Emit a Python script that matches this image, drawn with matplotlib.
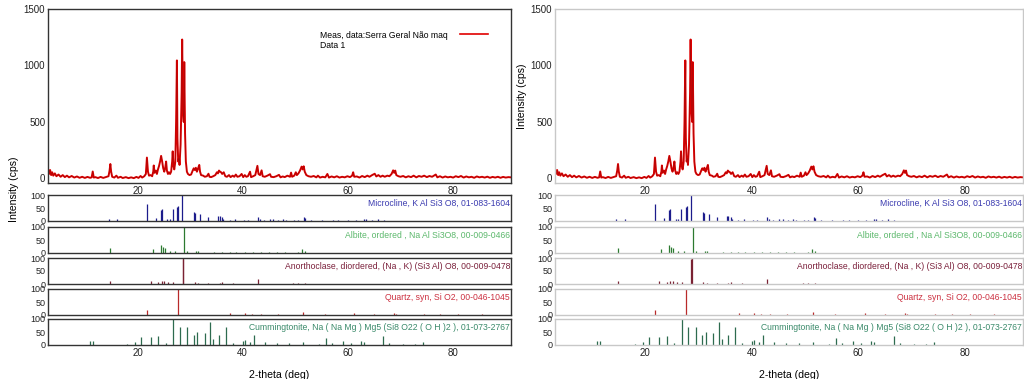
import matplotlib
matplotlib.use('Agg')
import matplotlib.pyplot as plt

plt.rcParams['font.family'] = ['Liberation Sans', 'DejaVu Sans']
plt.rcParams['font.size'] = 7

meas_tt = [3.0, 3.2, 3.4, 3.6, 3.8, 4.0, 4.3, 4.6, 5.0, 5.4, 5.8, 6.2, 6.6, 7.0, 7.5, 8.0,
           8.5, 9.0, 9.5, 10.0, 10.5, 11.0, 11.3, 11.5, 11.7, 12.0, 12.5, 13.0, 13.5, 14.0,
           14.5, 14.7, 14.85, 15.0, 15.2, 15.6, 16.0, 16.3, 16.8, 17.2, 17.8, 18.3, 18.8,
           19.3, 19.8, 20.2, 20.6, 20.9, 21.3, 21.6, 21.8, 22.0, 22.2, 22.5, 22.8, 23.0,
           23.1, 23.25, 23.5, 23.7, 23.9, 24.1, 24.3, 24.5, 24.7, 24.9, 25.1, 25.3, 25.45,
           25.6, 25.8, 26.0, 26.2, 26.4, 26.6, 26.7, 26.85, 27.0, 27.2, 27.35, 27.5, 27.6,
           27.75, 27.9, 28.0, 28.2, 28.4, 28.5, 28.65, 28.8, 28.9, 29.05, 29.2, 29.4, 29.6,
           29.9, 30.2, 30.5, 30.7, 30.9, 31.1, 31.3, 31.5, 31.75, 31.9, 32.1, 32.5, 32.8,
           33.2, 33.5, 33.7, 34.0, 34.4, 34.8, 35.1, 35.3, 35.5, 35.7, 35.9, 36.1, 36.4,
           36.7, 37.0, 37.4, 37.7, 38.1, 38.4, 38.7, 39.0, 39.4, 39.8, 40.1, 40.4, 40.7,
           41.0, 41.4, 41.6, 42.0, 42.4, 42.8, 43.0, 43.3, 43.6, 43.8, 44.2, 44.7, 45.2,
           45.4, 45.9, 46.4, 46.9, 47.2, 47.6, 48.0, 48.5, 49.0, 49.2, 49.4, 49.8, 50.1,
           50.3, 50.6, 50.9, 51.2, 51.4, 51.6, 51.8, 52.1, 52.5, 53.0, 53.5, 54.0, 54.3,
           54.7, 55.2, 55.7, 56.1, 56.4, 56.9, 57.4, 57.9, 58.4, 58.9, 59.4, 59.9, 60.4,
           60.8, 61.0, 61.2, 61.7, 62.2, 62.7, 63.2, 63.7, 64.1, 64.6, 65.1, 65.4, 65.8,
           66.2, 66.6, 67.0, 67.5, 67.9, 68.3, 68.6, 68.8, 69.0, 69.2, 69.6, 70.0, 70.5,
           71.0, 71.5, 72.0, 72.5, 73.0, 73.5, 74.0, 74.5, 75.0, 75.5, 76.0, 76.7, 77.0,
           77.5, 78.0, 78.5, 79.0, 79.5, 80.0, 80.5, 81.0, 81.5, 82.0, 82.5, 83.0, 83.5,
           84.0, 84.5, 85.0, 85.5, 86.0, 86.5, 87.0, 87.5, 88.0, 88.5, 89.0, 89.5, 90.0,
           90.5, 91.0]
meas_cps = [85, 40, 75, 30, 55, 25, 45, 20, 35, 15, 30, 12, 25, 10, 22, 8,
            18, 6, 15, 5, 14, 6, 10, 62, 8, 12, 4, 14, 5, 12,
            20, 70, 128, 60, 15, 8, 25, 6, 15, 4, 12, 3, 10,
            3, 14, 5, 22, 8, 20, 40, 185, 60, 25, 30, 20, 60,
            115, 50, 70, 40, 80, 110, 150, 200, 150, 90, 60, 100, 150,
            70, 40, 55, 40, 60, 150, 240, 110, 80, 150, 500, 1045, 360,
            150, 180, 120, 300, 760, 1230, 600, 500, 1030, 400, 150, 60, 40,
            30, 35, 70, 90, 75, 95, 60, 85, 120, 60, 30, 25, 15,
            20, 42, 15, 12, 20, 30, 55, 45, 70, 60, 55, 40, 55,
            20, 15, 30, 12, 25, 15, 35, 15, 20, 40, 12, 30, 15,
            20, 60, 12, 20, 30, 112, 40, 30, 72, 20, 15, 25, 38,
            15, 12, 20, 32, 10, 18, 12, 25, 15, 52, 15, 25, 55,
            30, 45, 70, 105, 80, 108, 60, 30, 20, 15, 22, 10, 25,
            8, 15, 10, 40, 8, 18, 10, 20, 8, 15, 10, 20, 12,
            25, 55, 15, 18, 8, 22, 12, 25, 15, 30, 42, 18, 30,
            15, 25, 15, 25, 20, 40, 72, 50, 70, 30, 20, 15, 22,
            10, 20, 12, 25, 10, 22, 15, 25, 12, 22, 15, 35, 10,
            20, 8, 18, 10, 15, 8, 20, 12, 22, 8, 18, 10, 15,
            6, 18, 10, 15, 8, 16, 6, 14, 8, 15, 6, 14, 8,
            12, 10]

# reference stick patterns (2-theta, relative intensity)
micro_tt = [14.5, 16.1, 21.8, 23.5, 24.5, 24.7, 25.7, 26.1, 26.7, 27.6, 27.8, 28.5, 30.8,
            31.0, 31.9, 33.5, 35.3, 35.6, 36.0, 36.3, 37.5, 38.6, 40.2, 41.0, 42.9, 43.3,
            44.0, 45.2, 45.8, 46.8, 47.7, 48.3, 49.8, 50.5, 51.7, 51.9, 53.0, 55.0, 57.2,
            58.2, 60.0, 61.5, 63.0, 63.4, 64.5, 65.7, 66.8]
micro_i = [8, 6, 65, 13, 43, 45, 9, 6, 45, 55, 58, 100, 35,
           30, 28, 15, 18, 19, 16, 8, 5, 8, 4, 4, 17, 8,
           5, 6, 7, 5, 6, 5, 4, 5, 14, 12, 3, 3, 4,
           3, 3, 3, 8, 6, 3, 6, 3]
albite_tt = [14.8, 23.0, 24.4, 24.8, 25.2, 26.2, 27.2, 28.9, 29.5, 31.2, 31.6, 34.5, 36.0,
             37.5, 38.8, 40.5, 42.0, 43.5, 45.0, 46.5, 48.0, 50.5, 51.3, 51.8]
albite_i = [18, 16, 29, 25, 20, 9, 6, 100, 8, 6, 8, 3, 3,
            3, 4, 4, 3, 5, 3, 3, 3, 4, 15, 8]
anor_tt = [14.8, 22.6, 24.0, 24.6, 25.1, 25.9, 26.8, 28.6, 28.75, 30.9, 31.5, 33.5, 35.6,
           36.1, 38.2, 42.9, 49.6, 50.5, 51.8]
anor_i = [10, 10, 8, 10, 10, 6, 6, 95, 100, 6, 5, 4, 4,
          8, 3, 20, 3, 3, 5]
quartz_tt = [21.8, 27.65, 37.6, 40.4, 41.8, 43.5, 46.7, 51.5, 55.6, 61.2, 65.0, 68.8, 69.1,
             74.5, 77.6, 81.0, 85.5]
quartz_i = [18, 100, 7, 6, 5, 4, 4, 10, 4, 8, 3, 7, 5,
            3, 3, 3, 2]
cumm_tt = [10.9, 11.5, 18.1, 19.5, 20.6, 22.6, 24.0, 25.4, 26.8, 28.1, 29.5, 30.7, 31.4,
           32.8, 33.8, 34.4, 35.5, 36.8, 38.1, 40.1, 40.4, 41.3, 42.1, 44.2, 46.5, 48.9,
           51.5, 54.5, 55.9, 57.0, 59.1, 60.5, 62.5, 63.0, 66.7, 67.9, 70.5, 72.8, 74.3]
cumm_i = [15, 15, 5, 10, 30, 32, 35, 8, 100, 70, 70, 40, 50,
          45, 90, 25, 40, 70, 8, 15, 20, 10, 40, 10, 6, 8,
          12, 5, 28, 6, 15, 6, 15, 10, 35, 8, 5, 5, 12]

phases = [
    ('Microcline, K Al Si3 O8, 01-083-1604', micro_tt, micro_i, '#1c1c8c', '#3b3bb0'),
    ('Albite, ordered , Na Al Si3O8, 00-009-0466', albite_tt, albite_i, '#2c7a30', '#5cb86c'),
    ('Anorthoclase, diordered, (Na , K) (Si3 Al) O8, 00-009-0478', anor_tt, anor_i, '#7a2233', '#7a1f3a'),
    ('Quartz, syn, Si O2, 00-046-1045', quartz_tt, quartz_i, '#b82a2a', '#cc3040'),
    ('Cummingtonite, Na ( Na Mg ) Mg5 (Si8 O22 ( O H )2 ), 01-073-2767', cumm_tt, cumm_i, '#2d6b4f', '#3a8a6a'),
]

W, H = 1024, 379
fig = plt.figure(figsize=(W / 100, H / 100), dpi=100)

# pixel boxes (top, bottom) of main plot and stick plots
main_box = (9, 183)
stick_boxes = [(195, 221), (227, 253), (258, 284), (289, 315), (319, 345)]


def add_ax(x0, x1, top, bot):
    return fig.add_axes([x0 / W, 1 - bot / H, (x1 - x0) / W, (bot - top) / H])


def style(ax, spine_col, size=7):
    for s in ax.spines.values():
        s.set_color(spine_col)
        s.set_linewidth(1.0)
    ax.tick_params(length=0, pad=2, colors='#222222', labelsize=size)
    ax.set_xlim(3, 91)


for x0, x1, spine_col, legend in [(48, 511, '#333333', True), (555, 1023, '#c8c8c8', False)]:
    ax = add_ax(x0, x1, *main_box)
    ax.plot(meas_tt, meas_cps, color='#e00000', lw=1.4)
    ax.plot(meas_tt, meas_cps, color='#701010', lw=0.35, alpha=0.6)
    ax.set_ylim(-40, 1500)
    ax.set_yticks([0, 500, 1000, 1500])
    ax.set_xticks([20, 40, 60, 80])
    style(ax, spine_col)
    if legend:
        # legend: text on the left, red sample line on the right
        ax.text(0.587, 0.85, 'Meas, data:Serra Geral Não maq', transform=ax.transAxes,
                ha='left', va='center', fontsize=6.2)
        ax.text(0.587, 0.79, 'Data 1', transform=ax.transAxes,
                ha='left', va='center', fontsize=6.2)
        ax.plot([0.89, 0.95], [0.858, 0.858], transform=ax.transAxes,
                color='#e00000', lw=1.2)
    else:
        ax.set_ylabel('Intensity (cps)', fontsize=7.6, labelpad=3)

    for i, ((top, bot), (name, tt, inten, col, tcol)) in enumerate(zip(stick_boxes, phases)):
        sa = add_ax(x0, x1, top, bot)
        sa.vlines(tt, 0, inten, colors=col, lw=0.9)
        sa.set_ylim(0, 100)
        sa.set_yticks([0, 50, 100])
        sa.set_xticks([20, 40, 60, 80])
        style(sa, spine_col, size=6.5)
        sa.tick_params(axis='x', labelsize=7)
        if i < len(stick_boxes) - 1:
            sa.tick_params(labelbottom=False)
        else:
            sa.set_xlabel('2-theta (deg)', fontsize=7.6, labelpad=9)
        sa.text(0.998, 0.86, name, transform=sa.transAxes, ha='right', va='top',
                color=tcol, fontsize=6.2)

fig.text(0.014, 0.5, 'Intensity (cps)', rotation=90, va='center', ha='center', fontsize=7.6)

fig.savefig('out.png', dpi=100)
